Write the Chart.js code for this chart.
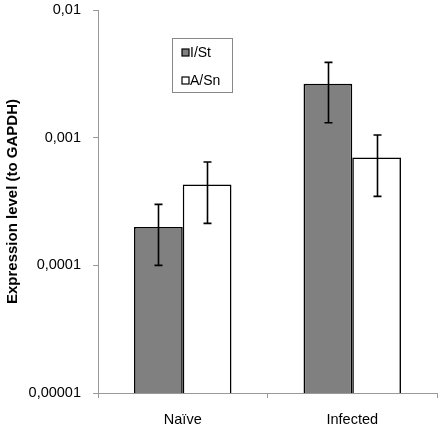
<!DOCTYPE html>
<html>
<head>
<meta charset="utf-8">
<script src="https://cdn.jsdelivr.net/npm/chart.js@4/dist/chart.umd.min.js"></script>
<style>
html,body{margin:0;padding:0;background:#fff;}
#wrap{width:442px;height:428px;}
</style>
</head>
<body>
<div id="wrap"><canvas id="c" width="442" height="428"></canvas></div>
<script>
const categories = ["Naïve", "Infected"];
const seriesNames = ["I/St", "A/Sn"];
const istValues = [0.0002, 0.00264];
const istLow = [0.0001, 0.00131];
const istHigh = [0.0003, 0.00389];
const asnValues = [0.00043, 0.0007];
const asnLow = [0.000213, 0.000347];
const asnHigh = [0.000644, 0.00105];
const yTicks = [0.00001, 0.0001, 0.001, 0.01];
const yTickLabels = ["0,00001", "0,0001", "0,001", "0,01"];

const FONT = "'Liberation Sans', Arial, sans-serif";

const errorBars = {
  id: 'errorBars',
  afterDatasetsDraw(chart) {
    const ctx = chart.ctx;
    const y = chart.scales.y;
    const lows = [istLow, asnLow];
    const highs = [istHigh, asnHigh];
    ctx.save();
    ctx.strokeStyle = '#000';
    ctx.lineWidth = 1.6;
    chart.data.datasets.forEach((ds, di) => {
      const meta = chart.getDatasetMeta(di);
      meta.data.forEach((bar, i) => {
        const x = Math.round(bar.x) + 0.5;
        const yl = y.getPixelForValue(lows[di][i]);
        const yh = y.getPixelForValue(highs[di][i]);
        ctx.beginPath();
        ctx.moveTo(x, yl); ctx.lineTo(x, yh);
        ctx.moveTo(x - 4, yl); ctx.lineTo(x + 4, yl);
        ctx.moveTo(x - 4, yh); ctx.lineTo(x + 4, yh);
        ctx.stroke();
      });
    });
    ctx.restore();
  }
};

const boxLegend = {
  id: 'boxLegend',
  afterDraw(chart) {
    const ctx = chart.ctx;
    ctx.save();
    ctx.fillStyle = '#fff';
    ctx.fillRect(172, 38, 61, 55);
    ctx.strokeStyle = '#888';
    ctx.lineWidth = 1;
    ctx.strokeRect(172.5, 38.5, 60, 54);
    const rows = [52.5, 80.5];
    chart.data.datasets.forEach((ds, i) => {
      const yy = rows[i];
      ctx.fillStyle = ds.backgroundColor;
      ctx.fillRect(182, yy - 3.5, 7, 7);
      ctx.strokeStyle = '#000';
      ctx.lineWidth = 1.2;
      ctx.strokeRect(182, yy - 3.5, 7, 7);
      ctx.fillStyle = '#000';
      ctx.font = '14px ' + FONT;
      ctx.textBaseline = 'middle';
      ctx.textAlign = 'left';
      ctx.fillText(ds.label, 190, yy + 0.5);
    });
    ctx.restore();
  }
};

new Chart(document.getElementById('c'), {
  type: 'bar',
  data: {
    labels: categories,
    datasets: [
      { label: seriesNames[0], data: istValues, backgroundColor: '#808080', borderColor: '#000', borderWidth: 1.6, categoryPercentage: 0.575, barPercentage: 1.0 },
      { label: seriesNames[1], data: asnValues, backgroundColor: '#ffffff', borderColor: '#000', borderWidth: 1.6, categoryPercentage: 0.575, barPercentage: 1.0 }
    ]
  },
  options: {
    responsive: false,
    animation: false,
    devicePixelRatio: 1,
    layout: { padding: { top: 10, right: 5, left: 0, bottom: 0 } },
    plugins: { legend: { display: false }, tooltip: { enabled: false } },
    scales: {
      x: {
        grid: { display: true, drawOnChartArea: false, drawTicks: true, tickLength: 5, color: '#999', offset: true },
        border: { display: true, color: '#999', width: 1 },
        ticks: { color: '#000', font: { family: FONT, size: 14.5 }, padding: 13 },
        afterFit(s) { s.height = 35; s.paddingLeft = 0; s.paddingRight = 0; }
      },
      y: {
        type: 'logarithmic',
        min: 0.00001,
        max: 0.01,
        afterBuildTicks(s) { s.ticks = yTicks.map(v => ({ value: v, major: true })); },
        grid: { display: true, drawOnChartArea: false, drawTicks: true, tickLength: 5, color: '#999' },
        border: { display: true, color: '#999', width: 1 },
        ticks: {
          color: '#000',
          font: { family: FONT, size: 14.5 },
          padding: 12,
          autoSkip: false,
          callback(v) { const i = yTicks.findIndex(t => Math.abs(t - v) / t < 1e-6); return i >= 0 ? yTickLabels[i] : ''; }
        },
        title: { display: true, text: 'Expression level (to GAPDH)', color: '#000', font: { family: FONT, size: 15, weight: 'bold' }, padding: { top: 4, bottom: 0 } },
        afterFit(s) { s.width = 98; s.paddingTop = 0; s.paddingBottom = 0; }
      }
    }
  },
  plugins: [errorBars, boxLegend]
});
</script>
</body>
</html>
